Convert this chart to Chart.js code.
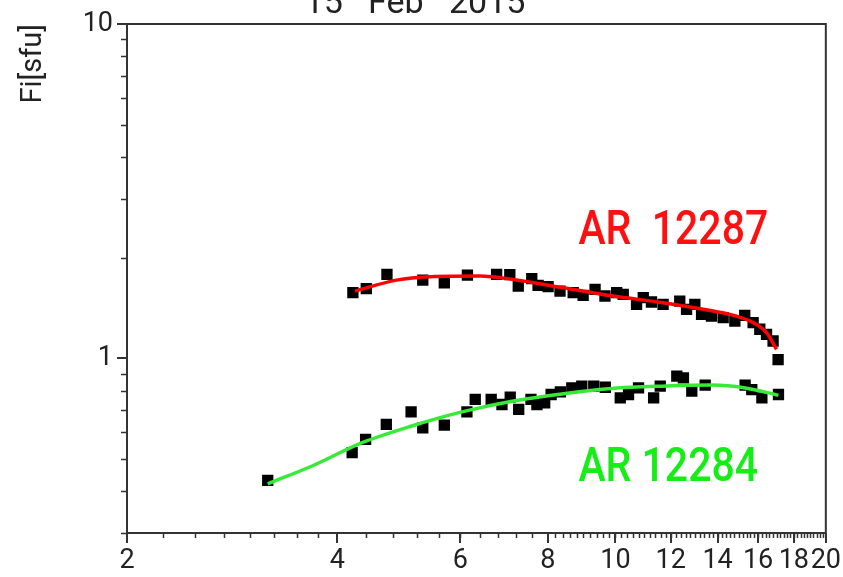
<!DOCTYPE html>
<html>
<head>
<meta charset="utf-8">
<script src="https://cdn.jsdelivr.net/npm/chart.js@4.4.0/dist/chart.umd.min.js"></script>
<style>
  html, body { margin: 0; padding: 0; background: #fff; }
</style>
</head>
<body>
<canvas id="spectrum" width="843" height="577"></canvas>
<script>
// AR 12287 - measured flux per frequency
const freq12287 = [4.21, 4.40, 4.71, 5.30, 5.69, 6.14, 6.76, 7.06, 7.26, 7.59, 7.75, 8.01, 8.33, 8.70, 8.99, 9.35, 9.66, 10.04, 10.26, 10.72, 10.96, 11.26, 11.70, 12.36, 12.64, 12.99, 13.28, 13.72, 14.26, 14.82, 15.31, 15.74, 16.09, 16.45, 16.81, 17.09];
const flux12287 = [1.571, 1.615, 1.781, 1.713, 1.682, 1.773, 1.781, 1.780, 1.643, 1.730, 1.651, 1.637, 1.588, 1.571, 1.542, 1.607, 1.535, 1.571, 1.552, 1.449, 1.518, 1.473, 1.449, 1.483, 1.400, 1.449, 1.353, 1.337, 1.323, 1.292, 1.344, 1.278, 1.221, 1.179, 1.126, 0.990];

// AR 12287 - fitted curve
const fitFreq12287 = [4.24, 4.86, 5.43, 6.40, 7.14, 8.42, 9.93, 11.70, 13.80, 14.90, 15.74, 16.45, 17.00];
const fitFlux12287 = [1.588, 1.713, 1.753, 1.761, 1.721, 1.626, 1.535, 1.466, 1.384, 1.337, 1.278, 1.193, 1.064];

// AR 12284 - measured flux per frequency
const freq12284 = [3.18, 4.20, 4.39, 4.70, 5.10, 5.30, 5.69, 6.13, 6.30, 6.64, 6.88, 7.07, 7.27, 7.57, 7.72, 7.92, 8.09, 8.34, 8.66, 8.95, 9.31, 9.67, 10.16, 10.44, 10.79, 11.34, 11.59, 12.24, 12.51, 12.86, 13.44, 15.33, 15.67, 16.20, 17.11];
const flux12284 = [0.431, 0.522, 0.572, 0.634, 0.691, 0.619, 0.631, 0.691, 0.753, 0.753, 0.727, 0.765, 0.703, 0.753, 0.727, 0.736, 0.779, 0.793, 0.815, 0.825, 0.825, 0.819, 0.761, 0.779, 0.815, 0.761, 0.825, 0.884, 0.873, 0.797, 0.831, 0.831, 0.806, 0.761, 0.779];

// AR 12284 - fitted curve
const fitFreq12284 = [3.18, 3.68, 4.34, 5.11, 6.03, 7.11, 8.38, 9.88, 11.65, 13.74, 15.33, 17.11];
const fitFlux12284 = [0.421, 0.476, 0.559, 0.627, 0.691, 0.744, 0.782, 0.812, 0.825, 0.831, 0.815, 0.775];

const xTickLabels = [2, 4, 6, 8, 10, 12, 14, 16, 18, 20];
const yTickLabels = [1, 10];
const chartTitle = '15   Feb   2015';

function steps(from, to, step) {
  const out = [];
  for (let v = from + step; v < to - 1e-9; v += step) out.push(+v.toFixed(2));
  return out;
}
// unlabelled minor tick marks
const xMinorTicks = [].concat(steps(2, 4, 0.25), steps(4, 8, 0.4), steps(8, 20, 0.2));
const yMinorTicks = [0.3, 0.4, 0.5, 0.6, 0.7, 0.8, 0.9, 2, 3, 4, 5, 6, 7, 8, 9];

const regionLabels = [
  { text: 'AR  12287', color: '#ff1010', at: [8.85, 2.19] },
  { text: 'AR 12284', color: '#14ee14', at: [8.85, 0.43] }
];

function points(xs, ys) {
  return xs.map((v, i) => ({ x: v, y: ys[i] }));
}

const decorations = {
  id: 'decorations',
  afterDraw(chart) {
    const { ctx, chartArea: a, scales: { x, y } } = chart;
    ctx.save();
    ctx.strokeStyle = '#333';
    ctx.lineWidth = 2;
    ctx.strokeRect(a.left, a.top, a.right - a.left, a.bottom - a.top);

    ctx.lineWidth = 1.5;
    ctx.beginPath();
    xMinorTicks.forEach(v => {
      const px = Math.round(x.getPixelForValue(v)) + 0.5;
      ctx.moveTo(px, a.bottom);
      ctx.lineTo(px, a.bottom + 5);
    });
    yMinorTicks.forEach(v => {
      const py = Math.round(y.getPixelForValue(v)) + 0.5;
      ctx.moveTo(a.left, py);
      ctx.lineTo(a.left - 6, py);
    });
    ctx.stroke();

    // title, mostly cut off by the top edge
    ctx.fillStyle = '#222';
    ctx.font = '34px Roboto';
    ctx.textAlign = 'center';
    ctx.textBaseline = 'alphabetic';
    ctx.fillText(chartTitle, 415, 13);

    // active region names, slightly condensed
    ctx.font = '500 41px Roboto';
    ctx.textAlign = 'left';
    regionLabels.forEach(l => {
      ctx.save();
      ctx.translate(x.getPixelForValue(l.at[0]), y.getPixelForValue(l.at[1]));
      ctx.scale(1, 1.18);
      ctx.fillStyle = l.color;
      ctx.fillText(l.text, 0, 0);
      ctx.restore();
    });
    ctx.restore();
  }
};

const tickFont = { family: 'Roboto', size: 27 };

new Chart(document.getElementById('spectrum'), {
  type: 'scatter',
  data: {
    datasets: [
      {
        label: 'AR 12287 fit',
        data: points(fitFreq12287, fitFlux12287),
        showLine: true,
        borderColor: '#ff0000',
        borderWidth: 3.5,
        pointRadius: 0,
        cubicInterpolationMode: 'monotone'
      },
      {
        label: 'AR 12284 fit',
        data: points(fitFreq12284, fitFlux12284),
        showLine: true,
        borderColor: '#38ea38',
        borderWidth: 3.5,
        pointRadius: 0,
        cubicInterpolationMode: 'monotone'
      },
      {
        label: 'AR 12287',
        data: points(freq12287, flux12287),
        pointStyle: 'rect',
        pointRadius: 8,
        pointBorderWidth: 0,
        backgroundColor: '#000'
      },
      {
        label: 'AR 12284',
        data: points(freq12284, flux12284),
        pointStyle: 'rect',
        pointRadius: 8,
        pointBorderWidth: 0,
        backgroundColor: '#000'
      }
    ]
  },
  options: {
    responsive: false,
    animation: false,
    layout: { padding: { top: 24, right: 17, left: 0, bottom: 0 } },
    plugins: {
      legend: { display: false },
      tooltip: { enabled: false }
    },
    scales: {
      x: {
        type: 'logarithmic',
        min: 2,
        max: 20,
        afterBuildTicks: scale => { scale.ticks = xTickLabels.map(v => ({ value: v })); },
        afterFit: scale => { scale.height = 44; },
        border: { display: false },
        grid: { drawOnChartArea: false, drawTicks: true, tickLength: 10, color: '#333', lineWidth: 2 },
        ticks: {
          autoSkip: false,
          maxRotation: 0,
          minRotation: 0,
          padding: 2,
          color: '#222',
          font: tickFont,
          callback: v => String(v)
        }
      },
      y: {
        type: 'logarithmic',
        min: 0.3,
        max: 10,
        afterBuildTicks: scale => { scale.ticks = yTickLabels.map(v => ({ value: v })); },
        afterFit: scale => { scale.width = 127; },
        border: { display: false },
        grid: { drawOnChartArea: false, drawTicks: true, tickLength: 10, color: '#333', lineWidth: 2 },
        title: {
          display: true,
          text: 'Fi[sfu]',
          align: 'end',
          color: '#222',
          font: { family: 'Roboto', size: 29 },
          padding: { top: 16, bottom: 0 }
        },
        ticks: {
          padding: 4,
          color: '#222',
          font: tickFont,
          callback: v => String(v)
        }
      }
    }
  },
  plugins: [decorations]
});
</script>
</body>
</html>
